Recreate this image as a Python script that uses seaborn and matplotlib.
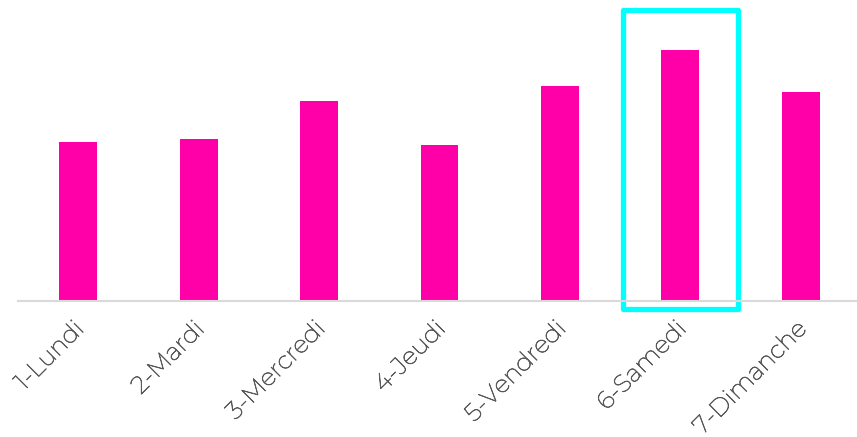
import matplotlib
matplotlib.use("Agg")
import matplotlib.pyplot as plt
import matplotlib.patheffects as pe
import matplotlib.transforms as mtrans
import seaborn as sns
import pandas as pd
from matplotlib.patches import Rectangle

days = ["1-Lundi", "2-Mardi", "3-Mercredi", "4-Jeudi", "5-Vendredi", "6-Samedi", "7-Dimanche"]
values = [159, 162, 200, 156, 215, 251, 209]
highlight = "6-Samedi"

df = pd.DataFrame({"day": days, "value": values})

sns.set_style("white")
plt.rcParams["font.family"] = ["Montserrat", "DejaVu Sans"]

fig = plt.figure(figsize=(8.57, 4.37), dpi=100)
ax = fig.add_axes([18 / 857, 136 / 437, 843 / 857, 301 / 437])

sns.barplot(data=df, x="day", y="value", color="#FF00A8", width=0.315,
            saturation=1, ax=ax, edgecolor="none")

ax.set_xlim(-0.5, 6.5)
ax.set_ylim(0, 301)
ax.set_xlabel("")
ax.set_ylabel("")
ax.set_yticks([])
for s in ["top", "right", "left"]:
    ax.spines[s].set_visible(False)
ax.spines["bottom"].set_color("#d9d9d9")
ax.spines["bottom"].set_linewidth(1.5)
ax.tick_params(axis="x", length=0, pad=12)
ax.set_xticks(range(len(days)))
labels = ax.set_xticklabels(days, rotation=45, ha="right", rotation_mode="anchor",
                            color="#595959", fontsize=17.5)
offset = mtrans.ScaledTranslation(-6 / 100, 0, fig.dpi_scale_trans)
for t in labels:
    t.set_path_effects([pe.withStroke(linewidth=0.5, foreground="#595959")])
    t.set_transform(t.get_transform() + offset)

i = days.index(highlight)
rect = Rectangle((i - 0.48, -8), 0.96, 299, fill=False, edgecolor="#00FFFF",
                 linewidth=3.8, clip_on=False, joinstyle="round")
ax.add_patch(rect)

fig.savefig("out.png", dpi=100)
